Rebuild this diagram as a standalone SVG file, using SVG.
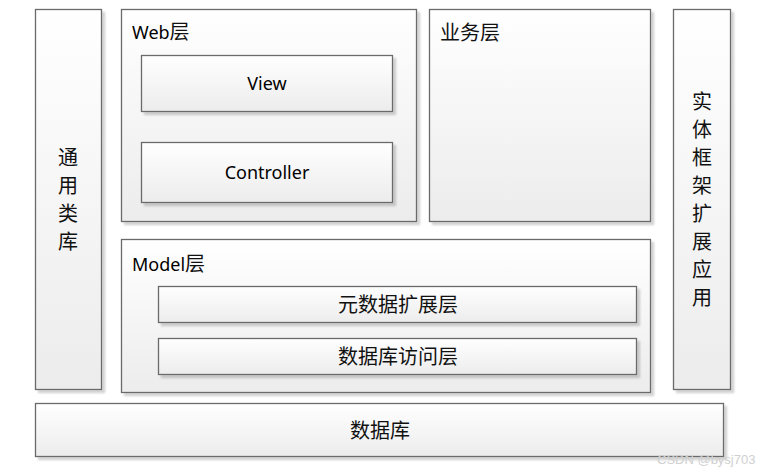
<svg xmlns="http://www.w3.org/2000/svg" width="767" height="473" viewBox="0 0 767 473">
<defs>
<linearGradient id="g" x1="0" y1="0" x2="0" y2="1">
<stop offset="0" stop-color="#ffffff"/>
<stop offset="1" stop-color="#ececec"/>
</linearGradient>
<filter id="sh" x="-5%" y="-5%" width="115%" height="120%">
<feGaussianBlur in="SourceAlpha" stdDeviation="1.2"/>
<feOffset dx="3" dy="3" result="b"/>
<feComponentTransfer><feFuncA type="linear" slope="0.18"/></feComponentTransfer>
<feMerge><feMergeNode/><feMergeNode in="SourceGraphic"/></feMerge>
</filter>
</defs>
<style>
.box{fill:url(#g);stroke:#6a6a6a;stroke-width:1.3;filter:url(#sh)}
.t{font-family:"Noto Sans","Noto Sans CJK SC",sans-serif;font-size:18px;fill:#000}
.z{font-family:"Noto Sans CJK SC",sans-serif;font-size:20px;fill:#111}
.c{text-anchor:middle}
.wm{font-family:"Liberation Sans","Noto Sans",sans-serif;font-size:13px;fill:#d0d0d0}
</style>
<rect width="767" height="473" fill="#ffffff"/>
<g id="common">
<rect class="box" x="35.5" y="9.5" width="66" height="380"/>
<text class="z c" x="68" y="165">通</text>
<text class="z c" x="68" y="193">用</text>
<text class="z c" x="68" y="221">类</text>
<text class="z c" x="68" y="249">库</text>
</g>
<g id="web">
<rect class="box" x="121.5" y="9.5" width="295" height="212"/>
<text class="t" x="132" y="39">Web<tspan class="z">层</tspan></text>
</g>
<g id="view">
<rect class="box" x="141.5" y="55.5" width="251" height="56"/>
<text class="t c" x="267" y="90">View</text>
</g>
<g id="controller">
<rect class="box" x="141.5" y="142.5" width="251" height="60"/>
<text class="t c" x="267" y="179">Controller</text>
</g>
<g id="business">
<rect class="box" x="429.5" y="9.5" width="221" height="212"/>
<text class="z" x="440" y="40">业务层</text>
</g>
<g id="entity">
<rect class="box" x="673.5" y="9.5" width="57" height="380"/>
<text class="z c" x="702" y="109">实</text>
<text class="z c" x="702" y="137">体</text>
<text class="z c" x="702" y="165">框</text>
<text class="z c" x="702" y="193">架</text>
<text class="z c" x="702" y="221">扩</text>
<text class="z c" x="702" y="249">展</text>
<text class="z c" x="702" y="277">应</text>
<text class="z c" x="702" y="305">用</text>
</g>
<g id="model">
<rect class="box" x="121.5" y="239.5" width="529" height="153"/>
<text class="t" x="132" y="271">Model<tspan class="z">层</tspan></text>
</g>
<g id="meta">
<rect class="box" x="158.5" y="286.5" width="478" height="36"/>
<text class="z c" x="398" y="312">元数据扩展层</text>
</g>
<g id="dbaccess">
<rect class="box" x="158.5" y="338.5" width="478" height="36"/>
<text class="z c" x="398" y="364">数据库访问层</text>
</g>
<g id="db">
<rect class="box" x="35.5" y="403.5" width="688" height="53"/>
<text class="z c" x="380" y="438">数据库</text>
</g>
<g id="connectors"></g>
<text class="wm" x="657" y="464">CSDN @bysj703</text>
</svg>
